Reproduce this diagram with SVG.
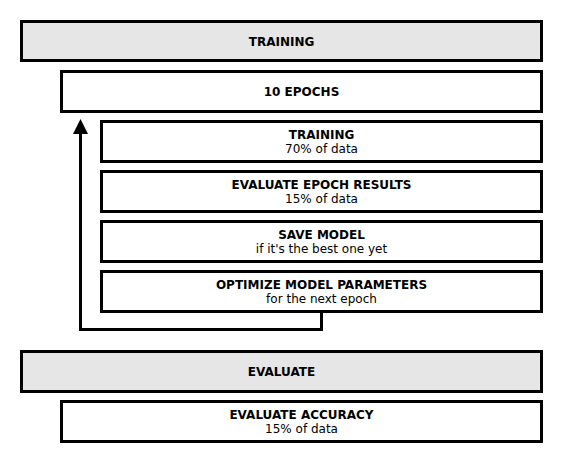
<svg xmlns="http://www.w3.org/2000/svg" width="563" height="463" viewBox="0 0 563 463">
<style>
.box{fill:#fff;stroke:#000;stroke-width:3}
.hdr{fill:#e6e6e6;stroke:#000;stroke-width:3}
.t{font-family:"DejaVu Sans",Verdana,sans-serif;font-size:12px;font-weight:bold;text-anchor:middle;fill:#000}
.s{font-family:"DejaVu Sans",Verdana,sans-serif;font-size:12px;text-anchor:middle;fill:#000}
.c{fill:none;stroke:#000;stroke-width:3}
</style>
<defs>
<marker id="ah" markerWidth="5" markerHeight="5" refX="4" refY="2.5" orient="auto" markerUnits="strokeWidth">
<path d="M0,0 L5,2.5 L0,5 z" fill="#000"/>
</marker>
</defs>
<g id="connectors">
<path class="c" d="M321.5,313 V329.5 H80.5 V122" marker-end="url(#ah)"/>
</g>
<g id="training-header">
<rect class="hdr" x="21.5" y="21.5" width="520" height="39"/>
<text class="t" x="281.5" y="46">TRAINING</text>
</g>
<g id="epochs">
<rect class="box" x="61.5" y="71.5" width="480" height="40"/>
<text class="t" x="301.5" y="96">10 EPOCHS</text>
</g>
<g id="train-step">
<rect class="box" x="101.5" y="121.5" width="440" height="40"/>
<text class="t" x="321.5" y="139">TRAINING</text>
<text class="s" x="321.5" y="153">70% of data</text>
</g>
<g id="eval-epoch">
<rect class="box" x="101.5" y="171.5" width="440" height="40"/>
<text class="t" x="321.5" y="189">EVALUATE EPOCH RESULTS</text>
<text class="s" x="321.5" y="203">15% of data</text>
</g>
<g id="save-model">
<rect class="box" x="101.5" y="221.5" width="440" height="40"/>
<text class="t" x="321.5" y="239">SAVE MODEL</text>
<text class="s" x="321.5" y="253">if it's the best one yet</text>
</g>
<g id="optimize">
<rect class="box" x="101.5" y="271.5" width="440" height="40"/>
<text class="t" x="321.5" y="289">OPTIMIZE MODEL PARAMETERS</text>
<text class="s" x="321.5" y="303">for the next epoch</text>
</g>
<g id="evaluate-header">
<rect class="hdr" x="21.5" y="351.5" width="520" height="40"/>
<text class="t" x="281.5" y="376">EVALUATE</text>
</g>
<g id="eval-accuracy">
<rect class="box" x="61.5" y="401.5" width="480" height="40"/>
<text class="t" x="301.5" y="419">EVALUATE ACCURACY</text>
<text class="s" x="301.5" y="433">15% of data</text>
</g>
</svg>
